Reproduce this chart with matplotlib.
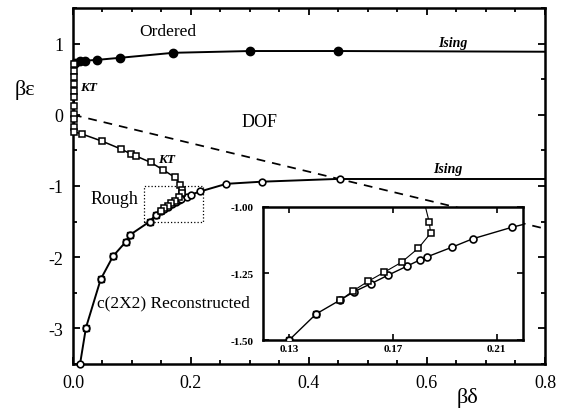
import matplotlib
matplotlib.use("Agg")
import matplotlib.pyplot as plt
from matplotlib.patches import Rectangle
from matplotlib.ticker import MultipleLocator, FixedLocator

plt.rcParams['font.family'] = ['Liberation Serif', 'DejaVu Serif']

# ordered / DOF boundary (filled circles)
ord_x = [0.003, 0.012, 0.02, 0.04, 0.08, 0.17, 0.30, 0.45]
ord_y = [0.73, 0.76, 0.76, 0.77, 0.80, 0.87, 0.895, 0.895]
ising_up_x = [0.45, 0.80]
ising_up_y = [0.895, 0.885]

# KT line (open squares)
kt_x = [0.002, 0.002, 0.002, 0.002, 0.002, 0.002, 0.002, 0.002, 0.002, 0.002, 0.002,
        0.015, 0.049, 0.081, 0.098, 0.107, 0.132, 0.152, 0.173, 0.182, 0.184,
        0.1845, 0.1798, 0.1733, 0.1667, 0.1605, 0.1547, 0.1496]
kt_y = [0.716, 0.618, 0.534, 0.435, 0.337, 0.253, 0.126, 0.014, -0.056, -0.169, -0.239,
        -0.27, -0.37, -0.48, -0.55, -0.58, -0.67, -0.77, -0.88, -0.98, -1.058,
        -1.099, -1.155, -1.208, -1.245, -1.279, -1.315, -1.351]

# rough / reconstructed boundary, open circles
rc_x = [0.012, 0.022, 0.047, 0.068, 0.09, 0.097, 0.13, 0.1404, 0.1496, 0.1551, 0.1614,
        0.1682, 0.1753, 0.1804, 0.1833, 0.1926, 0.2007, 0.2157, 0.26, 0.32, 0.4525]
rc_y = [-3.5, -2.99, -2.31, -1.985, -1.78, -1.685, -1.5, -1.402, -1.35, -1.318, -1.289,
        -1.256, -1.223, -1.199, -1.187, -1.152, -1.12, -1.077, -0.97, -0.94, -0.90]
# squares on the lower branch
low_sq_x = [0.022, 0.047, 0.068, 0.09, 0.097, 0.13, 0.1404]
low_sq_y = [-2.99, -2.31, -1.985, -1.78, -1.685, -1.5, -1.402]
ising_lo_x = [0.4525, 0.80]
ising_lo_y = [-0.90, -0.90]

# disordered flat line
dof_x = [0.0, 0.8]
dof_y = [0.0, -1.6]

fig = plt.figure(figsize=(5.67, 4.14), dpi=100)
ax = fig.add_axes([0.1287, 0.1184, 0.8325, 0.860])


def draw(a, lw, ms_c, ms_s, ms_f, clip):
    a.plot(dof_x, dof_y, 'k--', lw=lw * 0.9, dashes=(5, 4))
    a.plot(ord_x, ord_y, 'k-', lw=lw, marker='o', ms=ms_f, mfc='k', clip_on=clip, zorder=3)
    a.plot(ising_up_x, ising_up_y, 'k-', lw=lw)
    a.plot(ising_lo_x, ising_lo_y, 'k-', lw=lw)
    a.plot(rc_x, rc_y, 'k-', lw=lw, marker='o', ms=ms_c, mfc='white', mew=1.2,
           clip_on=clip, zorder=3)
    a.plot(low_sq_x, low_sq_y, 'none', marker='s', ms=ms_s, mfc='none', mec='k', mew=1.0,
           clip_on=clip, zorder=3)
    a.plot(kt_x, kt_y, 'k-', lw=lw * 0.8, marker='s', ms=ms_s, mfc='white', mew=1.1,
           clip_on=clip, zorder=3)


draw(ax, 1.4, 4.8, 4.2, 6.0, False)
ax.set_xlim(0, 0.8)
ax.set_ylim(-3.5, 1.5)
ax.xaxis.set_major_locator(FixedLocator([0.0, 0.2, 0.4, 0.6, 0.8]))
ax.set_xticklabels(['0.0', '0.2', '0.4', '0.6', '0.8'])
ax.xaxis.set_minor_locator(MultipleLocator(0.05))
ax.yaxis.set_major_locator(FixedLocator([-3, -2, -1, 0, 1]))
ax.set_yticklabels(['-3', '-2', '-1', '0', '1'])
ax.yaxis.set_minor_locator(MultipleLocator(0.5))
ax.tick_params(which='both', direction='in', top=True, right=True, width=1.3)
ax.tick_params(which='major', length=5, labelsize=13, pad=7)
ax.tick_params(which='minor', length=3)
for s in ax.spines.values():
    s.set_linewidth(1.8)

ax.add_patch(Rectangle((0.12, -1.5), 0.10, 0.5, fill=False, ls=':', lw=0.9, ec='k'))

ax.text(0.161, 1.17, 'Ordered', fontsize=12.5, ha='center', va='center')
ax.text(0.317, -0.10, 'DOF', fontsize=13, ha='center', va='center')
ax.text(0.644, 1.02, 'Ising', fontsize=10, style='italic', weight='bold', ha='center', va='center')
ax.text(0.636, -0.76, 'Ising', fontsize=10, style='italic', weight='bold', ha='center', va='center')
ax.text(0.012, 0.39, 'KT', fontsize=9.5, style='italic', weight='bold', ha='left', va='center')
ax.text(0.145, -0.62, 'KT', fontsize=9.5, style='italic', weight='bold', ha='left', va='center')
ax.text(0.071, -1.18, 'Rough', fontsize=13, ha='center', va='center')
ax.text(0.17, -2.63, 'c(2X2) Reconstructed', fontsize=12.5, ha='center', va='center')

fig.text(0.044, 0.783, 'βε', fontsize=16, ha='center', va='center')
fig.text(0.824, 0.039, 'βδ', fontsize=16, ha='center', va='center')

# inset
ins = fig.add_axes([0.464, 0.176, 0.458, 0.322])
draw(ins, 1.0, 5.0, 4.5, 6.0, True)
ins.set_xlim(0.12, 0.22)
ins.set_ylim(-1.5, -1.0)
ins.xaxis.set_major_locator(FixedLocator([0.13, 0.17, 0.21]))
ins.set_xticklabels(['0.13', '0.17', '0.21'])
ins.yaxis.set_major_locator(FixedLocator([-1.5, -1.25, -1.0]))
ins.set_yticklabels(['-1.50', '-1.25', '-1.00'])
ins.tick_params(direction='in', top=True, right=True, length=4, width=1.2,
                labelsize=8)
ins.tick_params(axis='x', pad=3)
ins.tick_params(axis='y', pad=7)
for lab in ins.get_xticklabels() + ins.get_yticklabels():
    lab.set_fontweight('bold')
for s in ins.spines.values():
    s.set_linewidth(1.8)
ins.set_facecolor('white')

fig.savefig('out.png', dpi=100)
